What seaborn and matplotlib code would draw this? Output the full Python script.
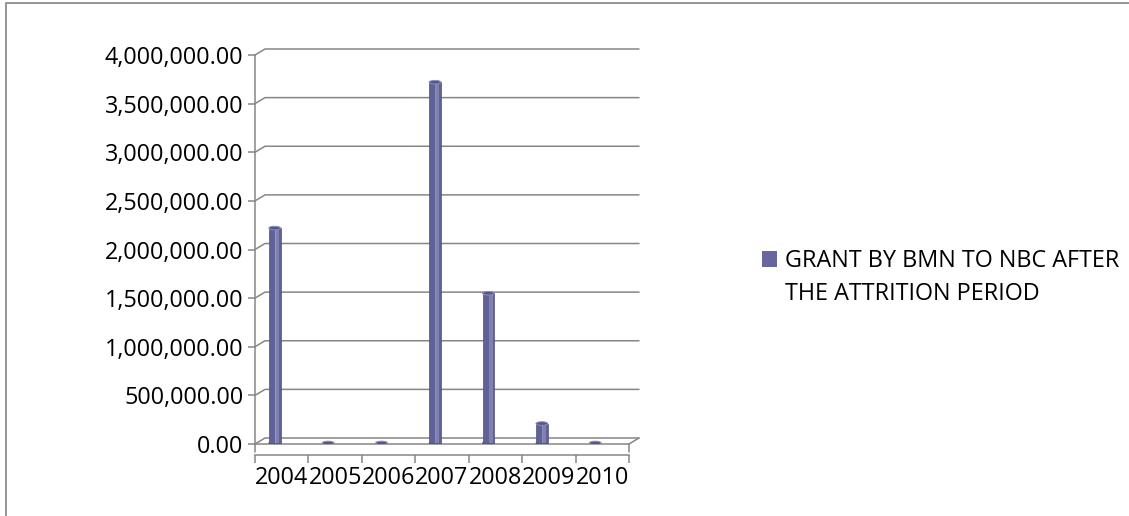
import matplotlib
matplotlib.use("Agg")
import matplotlib.pyplot as plt
from matplotlib.patches import Rectangle, Ellipse
from matplotlib.lines import Line2D
from matplotlib.transforms import offset_copy
import seaborn as sns
import pandas as pd

# Grant per year
years = ["2004", "2005", "2006", "2007", "2008", "2009", "2010"]
grant = [2210000, 0, 0, 3710000, 1540000, 200000, 0]
series_name = "GRANT BY BMN TO NBC AFTER\nTHE ATTRITION PERIOD"
y_ticks = [0, 500000, 1000000, 1500000, 2000000, 2500000, 3000000, 3500000, 4000000]

bar_color = "#5F6197"
bar_edge = "#4E5084"
highlight = "#8B8DB8"
cap_color = "#55578B"
line_gray = "#868686"
FS = 16.8

sns.set_style("white")
plt.rcParams["font.family"] = ["Open Sans", "DejaVu Sans"]

W, H = 1129, 516
fig = plt.figure(figsize=(W / 100, H / 100), dpi=100)
ax = fig.add_axes([255 / W, (H - 444) / H, 374 / W, 389 / H])

df = pd.DataFrame({"year": years, "grant": grant})
sns.barplot(data=df, x="year", y="grant", order=years, color=bar_color,
            saturation=1, width=0.22, ax=ax, zorder=3)
ax.set_xlim(-0.5, len(years) - 0.5)
ax.set_ylim(y_ticks[0], y_ticks[-1])
ax.set_xlabel("")
ax.set_ylabel("")

# pixel -> data conversions for the pseudo-3D depth
px_x = ax.bbox.width / (len(years))
px_y = ax.bbox.height / (y_ticks[-1] - y_ticks[0])
bdx, bdy = 10 / px_x, 6 / px_y          # back wall offset
face = 8 / px_y                          # floor thickness
x_lo, x_hi = -0.5, len(years) - 0.5

# back wall grid with depth connectors
for v in y_ticks:
    ax.plot([x_lo, x_lo + bdx, x_hi + bdx], [v, v + bdy, v + bdy],
            color=line_gray, lw=1.1, clip_on=False, zorder=1)
# floor
ax.plot([x_lo, x_hi], [0, 0], color=line_gray, lw=1.1, clip_on=False, zorder=1)
ax.plot([x_hi, x_hi + bdx], [0, bdy], color=line_gray, lw=1.1, clip_on=False, zorder=1)
for xe in (x_lo, x_hi):
    ax.plot([xe, xe], [0, -face], color=line_gray, lw=1.1, clip_on=False, zorder=1)

# cylinder styling for the bars, sitting a little inside the floor
bar_trans = offset_copy(ax.transData, fig=fig, x=-7, y=1, units="dots")
cap_h = 3.6 / px_y
for patch in list(ax.patches):
    x0, w, h = patch.get_x(), patch.get_width(), patch.get_height()
    xc = x0 + w / 2
    patch.set_transform(bar_trans)
    patch.set_edgecolor(bar_edge)
    patch.set_linewidth(0.5)
    if h > 0:
        ax.add_patch(Rectangle((x0 + 0.56 * w, 0), 0.32 * w, h, facecolor=highlight,
                               edgecolor="none", alpha=0.75, transform=bar_trans, zorder=4))
        ax.add_patch(Rectangle((x0 + 0.52 * w, 0), 0.05 * w, h, facecolor="#A9ABCC",
                               edgecolor="none", alpha=0.6, transform=bar_trans, zorder=4))
        ax.add_patch(Ellipse((xc, 0), w, cap_h, facecolor=bar_color, edgecolor=bar_edge,
                             lw=0.5, transform=bar_trans, zorder=2.9))
    ax.add_patch(Ellipse((xc, h), w, cap_h, facecolor=cap_color, edgecolor=highlight,
                         lw=0.7, transform=bar_trans, zorder=5))

# spines and ticks
for s in ("top", "right"):
    ax.spines[s].set_visible(False)
for s in ("left", "bottom"):
    ax.spines[s].set_color(line_gray)
    ax.spines[s].set_linewidth(1.1)
ax.spines["bottom"].set_position(("outward", 8))

ax.set_yticks(y_ticks)
ax.set_yticklabels([f"{v:,.2f}" for v in y_ticks])
ax.tick_params(axis="y", which="major", left=True, length=5.2, width=1.1,
               color=line_gray, pad=3, labelsize=FS, labelcolor="black")
ax.set_xticks(range(len(years)))
ax.set_xticklabels(years)
ax.set_xticks([i - 0.5 for i in range(len(years) + 1)], minor=True)
ax.tick_params(axis="x", which="major", bottom=False, length=0, pad=8,
               labelsize=FS, labelcolor="black")
ax.tick_params(axis="x", which="minor", bottom=True, length=6, width=1.1, color=line_gray)
ax.grid(False)
ax.set_facecolor("none")

# legend
fig.add_artist(Rectangle((762 / W, (H - 267) / H), 15 / W, 16 / H,
                         transform=fig.transFigure, facecolor="#66689C", edgecolor="none"))
fig.text(785 / W, (H - 249) / H, series_name, va="top", ha="left",
         fontsize=FS, linespacing=1.48, color="black")

# chart border
fig.add_artist(Line2D([6 / W, 6 / W, 1.0], [0.0, 1 - 3 / H, 1 - 3 / H],
                      transform=fig.transFigure, color="#8C8C8C", lw=1.3))

fig.savefig("out.png", dpi=100)
